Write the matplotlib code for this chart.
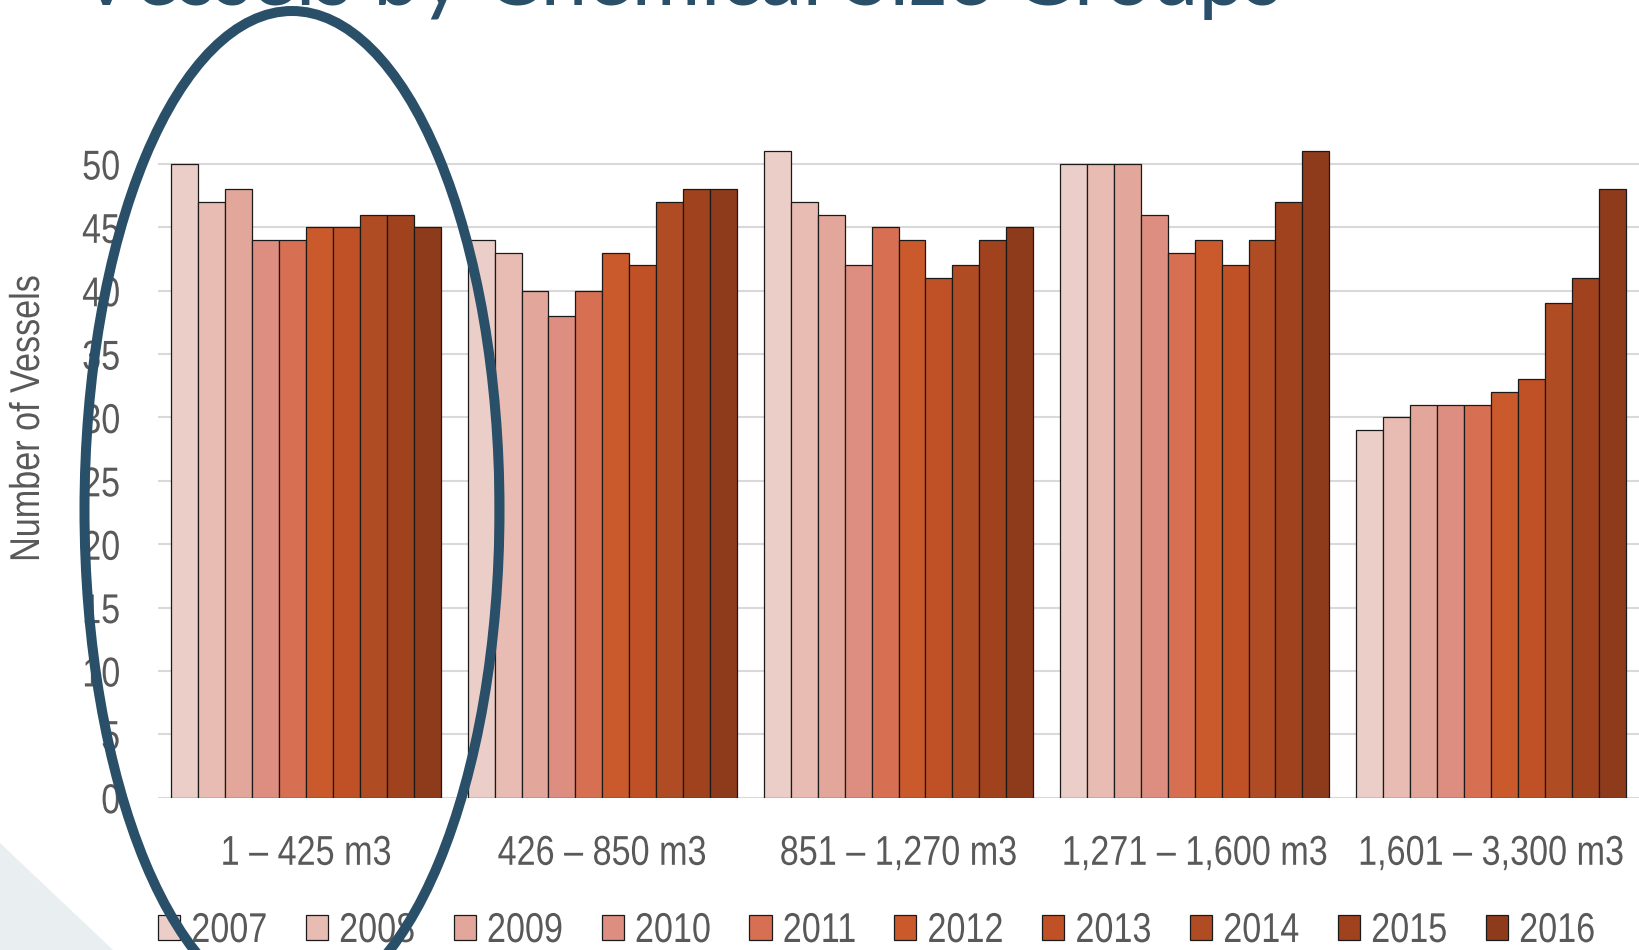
import numpy as np
import matplotlib
matplotlib.use("Agg")
import matplotlib.pyplot as plt
from matplotlib.patches import Ellipse, Polygon
from matplotlib.patheffects import AbstractPathEffect
from matplotlib.transforms import Affine2D

# ---- data -------------------------------------------------------------
categories = ["1 \u2013 425 m3", "426 \u2013 850 m3", "851 \u2013 1,270 m3",
              "1,271 \u2013 1,600 m3", "1,601 \u2013 3,300 m3"]
years = ["2007", "2008", "2009", "2010", "2011",
         "2012", "2013", "2014", "2015", "2016"]

# vessel counts per size group, one value per year (2007..2016)
size_1_425 = [50, 47, 48, 44, 44, 45, 45, 46, 46, 45]
size_426_850 = [44, 43, 40, 38, 40, 43, 42, 47, 48, 48]
size_851_1270 = [51, 47, 46, 42, 45, 44, 41, 42, 44, 45]
size_1271_1600 = [50, 50, 50, 46, 43, 44, 42, 44, 47, 51]
size_1601_3300 = [29, 30, 31, 31, 31, 32, 33, 39, 41, 48]

yticks = list(range(0, 51, 5))

year_colors = ["#ECCEC8", "#E8BCB2", "#E2A79A", "#DD8E80", "#D77053",
               "#CA592C", "#C05127", "#B04C24", "#A0421E", "#8E3B1B"]


class Condense(AbstractPathEffect):
    """Draw text glyphs horizontally squeezed (narrow face look)."""

    def __init__(self, factor=0.82, pivot="center"):
        super().__init__()
        self.factor = factor
        self.pivot = pivot

    def draw_path(self, renderer, gc, tpath, affine, rgbFace=None):
        ext = tpath.get_extents()
        if self.pivot == "left":
            px = ext.x0
        elif self.pivot == "right":
            px = ext.x1
        else:
            px = 0.5 * (ext.x0 + ext.x1)
        squeeze = Affine2D().translate(-px, 0).scale(self.factor, 1).translate(px, 0)
        renderer.draw_path(gc, tpath, squeeze + affine, rgbFace)


# ---- styling ----------------------------------------------------------
W, H, DPI = 1639, 950, 100
TEXT = "#595959"
NAVY = "#294F69"
FS = 30
plt.rcParams["font.family"] = ["Liberation Sans", "DejaVu Sans"]

fig = plt.figure(figsize=(W / DPI, H / DPI), dpi=DPI)

# slide decoration in the lower-left corner (pixel coordinates)
bg = fig.add_axes([0, 0, 1, 1], zorder=-1)
bg.set_xlim(0, W)
bg.set_ylim(H, 0)
bg.axis("off")
bg.add_patch(Polygon([(0, 843), (113, 950), (0, 950)], closed=True,
                     facecolor="#E9EEF1", edgecolor="none"))

# ---- chart ------------------------------------------------------------
px_per_unit = (797.7 - 164.0) / 50.0
ymax = 52
ax_left = 158 / W
ax_bottom = (H - 797.7) / H
ax_height = ymax * px_per_unit / H
ax = fig.add_axes([ax_left, ax_bottom, 1 - ax_left, ax_height], zorder=1)

groups = np.array([size_1_425, size_426_850, size_851_1270,
                   size_1271_1600, size_1601_3300])
x = np.arange(len(categories))
n = len(years)
bw = 0.909 / n
for i, yr in enumerate(years):
    ax.bar(x + (i - (n - 1) / 2) * bw, groups[:, i], width=bw,
           color=year_colors[i], edgecolor="#1a1a1a", linewidth=0.9,
           label=yr, zorder=3)

ax.set_xlim(-0.5, len(categories) - 0.5)
ax.set_ylim(0, ymax)
ax.set_yticks(yticks, labels=[str(v) for v in yticks],
              path_effects=[Condense(pivot="right")])
ax.set_xticks(x, labels=categories, path_effects=[Condense(pivot="center")])
ax.tick_params(axis="both", length=0, labelsize=FS, labelcolor=TEXT)
ax.tick_params(axis="y", pad=27)
ax.tick_params(axis="x", pad=26)
ax.grid(axis="y", color="#D9D9D9", linewidth=1.5, zorder=0)
for s in ax.spines.values():
    s.set_visible(False)
ax.set_axisbelow(True)

fig.text(28 / W, 1 - 419 / H, "Number of Vessels", rotation=90,
         ha="center", va="center", fontsize=FS, color=TEXT,
         path_effects=[Condense(pivot="center")])

leg = fig.legend(loc="center left", bbox_to_anchor=(158 / W, 1 - 931 / H),
                 ncol=n, frameon=False, fontsize=FS,
                 handlelength=0.53, handleheight=0.53,
                 handletextpad=0.26, columnspacing=0.535, borderaxespad=0,
                 borderpad=0)
for t in leg.get_texts():
    t.set_color(TEXT)
    t.set_path_effects([Condense(pivot="left")])

# ---- heading (clipped by the top edge) ---------------------------------
title = fig.text(78 / W, 1 - 5 / H, "Vessels by Chemical Size Groups",
                 ha="left", va="baseline", color=NAVY, fontsize=60,
                 family=["Lato", "Open Sans", "DejaVu Sans"])
renderer = fig.canvas.get_renderer()
wpx = title.get_window_extent(renderer).width
title.set_fontsize(60 * 1205 / wpx)

# ---- highlight ellipse around the first size group ---------------------
ov = fig.add_axes([0, 0, 1, 1], zorder=10)
ov.set_xlim(0, W)
ov.set_ylim(H, 0)
ov.axis("off")
ov.add_patch(Ellipse((292, 510), 415, 998, fill=False,
                     edgecolor=NAVY, linewidth=7.2))

fig.savefig("out.png", dpi=DPI)
